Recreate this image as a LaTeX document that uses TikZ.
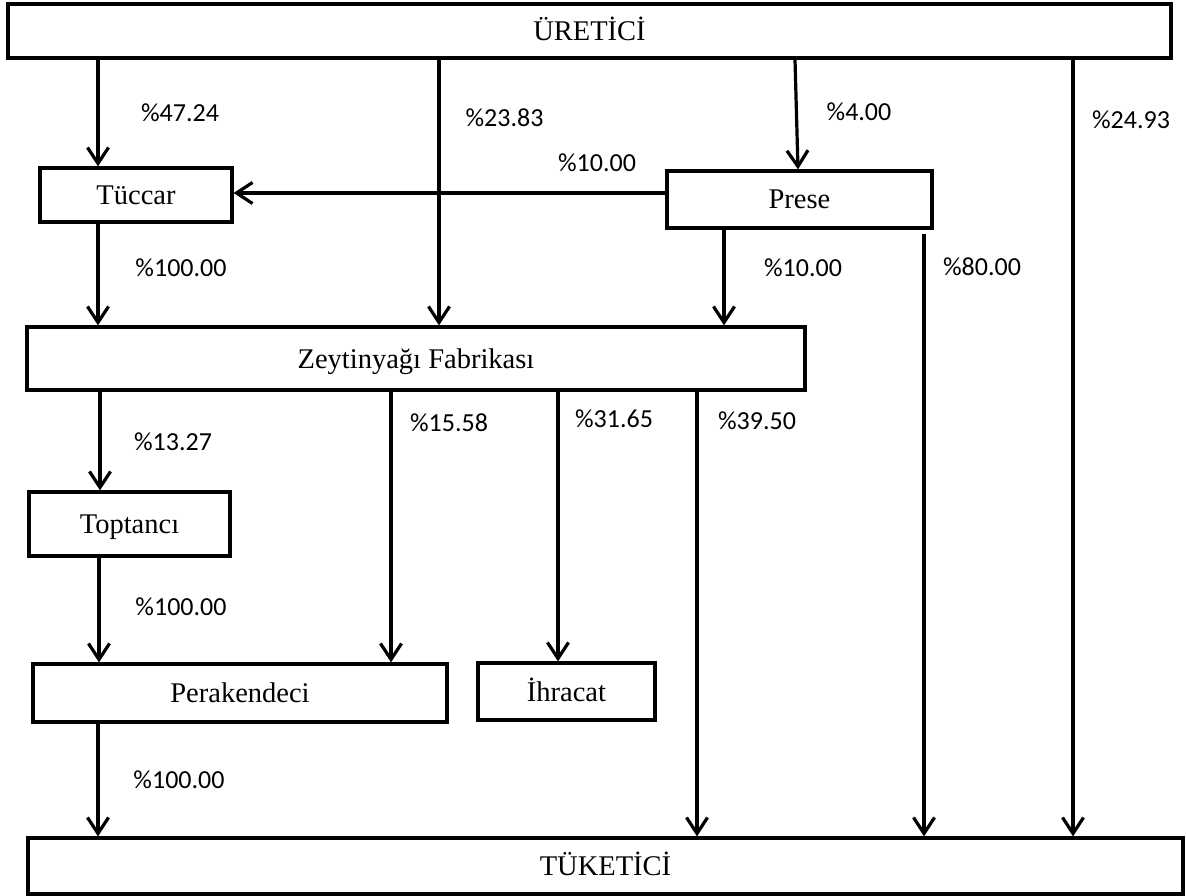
\documentclass[tikz,border=0pt]{standalone}
\usepackage{fontspec}
\setmainfont{Liberation Serif}
\newfontfamily\pctfont{Carlito}
\usetikzlibrary{arrows.meta}
\begin{document}
\begin{tikzpicture}[x=1pt,y=-1pt,
  box/.style={draw, line width=3.2pt, inner sep=0pt, font=\fontsize{28.5}{30}\selectfont, text height=19pt, text depth=0pt},
  pct/.style={font=\pctfont\fontsize{26}{28}\selectfont, inner sep=0pt},
  arr/.style={line width=3.2pt, -{Straight Barb[length=16pt,width=21pt]}}]
\useasboundingbox (0,0) rectangle (1186,896);
% boxes
\node[box, minimum width=1163pt, minimum height=54pt] (u) at (589.5,31) {ÜRETİCİ};
\node[box, minimum width=192pt, minimum height=54pt] (t) at (136,195) {Tüccar};
\node[box, minimum width=265pt, minimum height=57pt] (p) at (799.5,199.5) {Prese};
\node[box, minimum width=778pt, minimum height=63pt] (f) at (416,358.5) {Zeytinyağı Fabrikası};
\node[box, minimum width=201pt, minimum height=64pt] (o) at (129.5,524) {Toptancı};
\node[box, minimum width=414pt, minimum height=58pt] (r) at (240,693) {Perakendeci};
\node[box, minimum width=177pt, minimum height=57pt] (i) at (566.5,691.5) {İhracat};
\node[box, minimum width=1155pt, minimum height=56pt] (k) at (605.5,866) {TÜKETİCİ};
% helper coordinates
\coordinate (c98) at (98,0);
\coordinate (c99) at (99,0);
\coordinate (c100) at (100,0);
\coordinate (c391) at (391,0);
\coordinate (c439) at (439,0);
\coordinate (c558) at (558,0);
\coordinate (c697) at (697,0);
\coordinate (c724) at (724,0);
\coordinate (c795) at (795,0);
\coordinate (c798) at (798,0);
\coordinate (c924) at (924,0);
\coordinate (c1073) at (1073,0);
\coordinate (yh) at (0,193);
% connectors
\draw[arr] (c98 |- u.south) -- (c98 |- t.north);
\draw[arr] (c439 |- u.south) -- (c439 |- f.north);
\draw[arr] (c795 |- u.south) -- (c798 |- p.north);
\draw[arr] (c1073 |- u.south) -- (c1073 |- k.north);
\draw[arr] (p.west |- yh) -- (t.east |- yh);
\draw[arr] (c98 |- t.south) -- (c98 |- f.north);
\draw[arr] (c724 |- p.south) -- (c724 |- f.north);
\draw[arr, shorten <=4pt] (c924 |- p.south) -- (c924 |- k.north);
\draw[arr] (c100 |- f.south) -- (c100 |- o.north);
\draw[arr] (c391 |- f.south) -- (c391 |- r.north);
\draw[arr] (c558 |- f.south) -- (c558 |- i.north);
\draw[arr] (c697 |- f.south) -- (c697 |- k.north);
\draw[arr] (c99 |- o.south) -- (c99 |- r.north);
\draw[arr] (c98 |- r.south) -- (c98 |- k.north);
% labels
\node[pct] (l1) at (180,113) {\%47.24};
\node[pct] (l2) at (504.5,118) {\%23.83};
\node[pct] (l3) at (597,163) {\%10.00};
\node[pct] (l4) at (859,112) {\%4.00};
\node[pct] (l5) at (1131,120) {\%24.93};
\node[pct] (l6) at (181,268) {\%100.00};
\node[pct] (l7) at (803,268) {\%10.00};
\node[pct] (l8) at (982,267) {\%80.00};
\node[pct] (l9) at (173,442) {\%13.27};
\node[pct] (l10) at (449,423) {\%15.58};
\node[pct] (l11) at (614,419) {\%31.65};
\node[pct] (l12) at (757,421) {\%39.50};
\node[pct] (l13) at (181,607) {\%100.00};
\node[pct] (l14) at (179,780) {\%100.00};
\end{tikzpicture}
\end{document}
